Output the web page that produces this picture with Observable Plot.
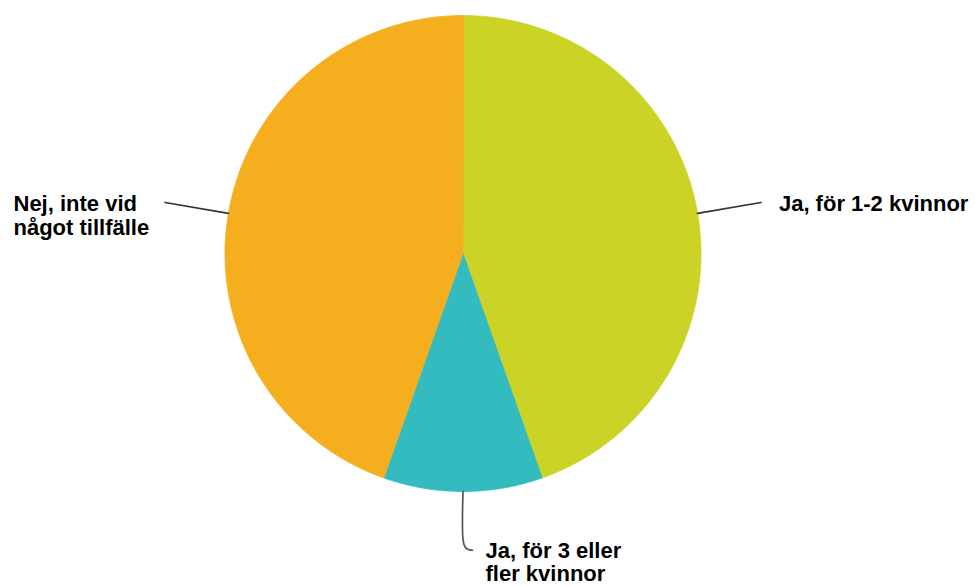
<!DOCTYPE html>
<html><head><meta charset="utf-8">
<script src="https://cdn.jsdelivr.net/npm/d3@7"></script>
<script src="https://cdn.jsdelivr.net/npm/@observablehq/plot@0.6"></script>
<style>body{margin:0;background:#fff}</style>
</head><body><div id="chart"></div>
<script>
// Data
const categories = ["Ja, för 1-2 kvinnor", "Ja, för 3 eller fler kvinnor", "Nej, inte vid något tillfälle"];
const values = [44.6, 10.8, 44.6];
const labels = ["Ja, för 1-2 kvinnor", "Ja, för 3 eller\nfler kvinnor", "Nej, inte vid\nnågot tillfälle"];
const colors = ["#CCD327", "#33BBBF", "#F5AE1E"];

// Layout (pixels)
const W = 975, H = 586, CX = 462.5, CY = 253, R = 238;

const arcs = d3.pie().sort(null).value(d => d)(values);

// Slice polygons in radius units
const slicePts = [];
arcs.forEach((a, i) => {
  slicePts.push({cat: categories[i], x: 0, y: 0});
  const n = Math.ceil((a.endAngle - a.startAngle) / (Math.PI / 720));
  for (let k = 0; k <= n; k++) {
    const t = a.startAngle + (a.endAngle - a.startAngle) * k / n;
    slicePts.push({cat: categories[i], x: Math.sin(t), y: Math.cos(t)});
  }
});

// Leader lines from the slice mid-angle
const leaderPts = [];
const ends = [];
arcs.forEach((a, i) => {
  const m = (a.startAngle + a.endAngle) / 2;
  const sx = Math.sin(m), sy = Math.cos(m);
  if (Math.abs(sx) < 0.3) {
    const x0 = sx;
    const pts = [[x0, sy], [x0, -1.2], [x0 + 0.008, -1.232], [x0 + 0.02, -1.243], [x0 + 0.04, -1.247]];
    pts.forEach(([x, y]) => leaderPts.push({cat: categories[i], kind: "bottom", x, y}));
    ends.push({cat: categories[i], label: labels[i], x: pts[pts.length - 1][0], y: pts[pts.length - 1][1], side: "bottom"});
  } else {
    leaderPts.push({cat: categories[i], kind: "side", x: sx, y: sy});
    leaderPts.push({cat: categories[i], kind: "side", x: sx * 1.27, y: sy * 1.27});
    ends.push({cat: categories[i], label: labels[i], x: sx * 1.27, y: sy * 1.27, side: sx > 0 ? "right" : "left"});
  }
});

const font = {fontFamily: "Liberation Sans, Arial, sans-serif", fontWeight: "bold", fontSize: 22, fill: "#000", lineHeight: 1.07};

const chart = Plot.plot({
  width: W,
  height: H,
  margin: 0,
  style: {background: "#fff"},
  x: {domain: [-CX / R, (W - CX) / R], axis: null},
  y: {domain: [(CY - H) / R, CY / R], axis: null},
  color: {domain: categories, range: colors},
  marks: [
    Plot.line(slicePts, {x: "x", y: "y", z: "cat", fill: "cat", stroke: "cat", strokeWidth: 0.8, curve: "linear-closed"}),
    Plot.line(leaderPts.filter(d => d.kind === "side"), {x: "x", y: "y", z: "cat", stroke: "#333", strokeWidth: 1.7}),
    Plot.line(leaderPts.filter(d => d.kind === "bottom"), {x: "x", y: "y", z: "cat", stroke: "#555", strokeWidth: 1.7, curve: "catmull-rom"}),
    Plot.text(ends.filter(d => d.side === "right"), {x: "x", y: "y", text: "label", textAnchor: "start", lineAnchor: "middle", dx: 18, dy: 0.5, ...font}),
    Plot.text(ends.filter(d => d.side === "left"), {y: "y", text: "label", frameAnchor: "left", textAnchor: "start", lineAnchor: "top", dx: 13, dy: -8, ...font}),
    Plot.text(ends.filter(d => d.side === "bottom"), {x: "x", y: "y", text: "label", textAnchor: "start", lineAnchor: "top", dx: 13, dy: -9.5, ...font})
  ]
});
document.getElementById("chart").appendChild(chart);
</script>
</body></html>
